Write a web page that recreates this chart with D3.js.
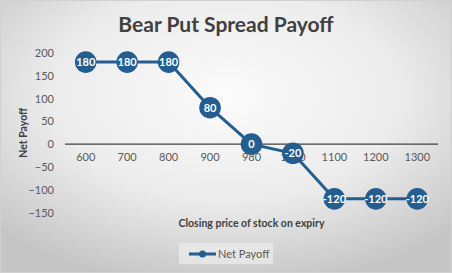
<!DOCTYPE html>
<html>
<head>
<meta charset="utf-8">
<script src="https://cdn.jsdelivr.net/npm/d3@7"></script>
<style>
  html, body { margin: 0; padding: 0; background: #fff; }
  svg { display: block; }
  text { font-family: Lato, "Open Sans", "Liberation Sans", sans-serif; }
</style>
</head>
<body>
<div id="chart"></div>
<script>
// Bear put spread: net payoff at each closing price of the stock
const strikes = ["600", "700", "800", "900", "980", "1000", "1100", "1200", "1300"];
const netPayoff = [180, 180, 180, 80, 0, -20, -120, -120, -120];
const yTicks = [200, 150, 100, 50, 0, -50, -100, -150];

const W = 452, H = 273;
const lineColor = "#245d8f";
const textColor = "#595959";

const svg = d3.select("#chart").append("svg")
  .attr("width", W).attr("height", H);

const defs = svg.append("defs");
const bg = defs.append("radialGradient")
  .attr("id", "bg")
  .attr("cx", "50%").attr("cy", "35%").attr("r", "70%");
bg.append("stop").attr("offset", "0%").attr("stop-color", "#fbfbfb");
bg.append("stop").attr("offset", "55%").attr("stop-color", "#ececec");
bg.append("stop").attr("offset", "100%").attr("stop-color", "#c6c6c6");

svg.append("rect")
  .attr("x", 0.5).attr("y", 0.5).attr("width", W - 1).attr("height", H - 1)
  .attr("fill", "url(#bg)").attr("stroke", "#d0d0d0");

// Plot area
const plot = { left: 65, right: 438, top: 53, bottom: 212.5 };

const x = d3.scaleBand()
  .domain(strikes)
  .range([plot.left, plot.right]);

const y = d3.scaleLinear()
  .domain([-150, 200])
  .range([plot.bottom, plot.top]);

// Title
svg.append("text")
  .attr("x", W / 2).attr("y", 32)
  .attr("text-anchor", "middle")
  .attr("font-size", 21).attr("font-weight", "bold")
  .attr("fill", "#404040")
  .text("Bear Put Spread Payoff");

// Y axis tick labels
const yAxis = d3.axisLeft(y).tickValues(yTicks).tickSize(0).tickPadding(0);
const yg = svg.append("g")
  .attr("transform", `translate(${plot.left - 11},0)`)
  .call(yAxis);
yg.select(".domain").remove();
yg.selectAll("text")
  .attr("font-size", 11).attr("fill", textColor)
  .attr("font-family", "Lato, 'Open Sans', sans-serif");

// Category axis drawn along the zero line, labels below it
const xAxis = d3.axisBottom(x).tickSize(0).tickPadding(9);
const xg = svg.append("g")
  .attr("transform", `translate(0,${y(0)})`)
  .call(xAxis);
xg.select(".domain").attr("stroke", "#404040").attr("stroke-width", 1.3)
  .attr("d", `M${plot.left},0H${plot.right}`);
xg.selectAll("text")
  .attr("font-size", 11).attr("fill", textColor)
  .attr("font-family", "Lato, 'Open Sans', sans-serif");

// Axis titles
svg.append("text")
  .attr("transform", `translate(27,${(plot.top + plot.bottom) / 2}) rotate(-90)`)
  .attr("text-anchor", "middle")
  .attr("font-size", 10.5).attr("font-weight", "bold")
  .attr("fill", "#404040")
  .text("Net Payoff");

svg.append("text")
  .attr("x", (plot.left + plot.right) / 2).attr("y", 227)
  .attr("text-anchor", "middle")
  .attr("font-size", 10.5).attr("font-weight", "bold")
  .attr("fill", "#404040")
  .text("Closing price of stock on expiry");

// Series line
const cx = (d, i) => x(strikes[i]) + x.bandwidth() / 2;
const line = d3.line()
  .x((d, i) => cx(d, i))
  .y(d => y(d));

svg.append("path")
  .datum(netPayoff)
  .attr("fill", "none")
  .attr("stroke", lineColor)
  .attr("stroke-width", 3)
  .attr("d", line);

// Markers with value labels
const pts = svg.append("g").selectAll("g")
  .data(netPayoff)
  .join("g")
  .attr("transform", (d, i) => `translate(${cx(d, i)},${y(d)})`);

pts.append("circle")
  .attr("r", 10.8)
  .attr("fill", lineColor);

pts.append("text")
  .attr("text-anchor", "middle")
  .attr("dy", "0.36em")
  .attr("font-size", 11).attr("font-weight", "bold")
  .attr("fill", "#ffffff")
  .text(d => d);

// Legend
const legend = svg.append("g").attr("transform", "translate(179,243)");
legend.append("rect")
  .attr("width", 94).attr("height", 21)
  .attr("fill", "#f2f2f2").attr("opacity", 0.6);
legend.append("line")
  .attr("x1", 10).attr("x2", 37).attr("y1", 11).attr("y2", 11)
  .attr("stroke", lineColor).attr("stroke-width", 3);
legend.append("circle")
  .attr("cx", 23.5).attr("cy", 11).attr("r", 3.5)
  .attr("fill", lineColor);
legend.append("text")
  .attr("x", 39).attr("y", 15)
  .attr("font-size", 11).attr("fill", textColor)
  .text("Net Payoff");
</script>
</body>
</html>
